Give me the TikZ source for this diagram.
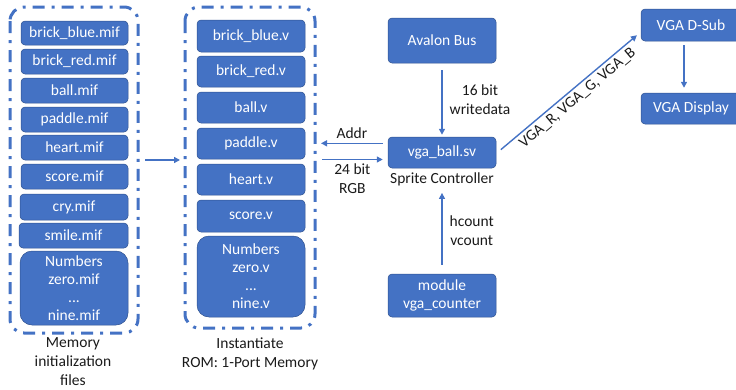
\documentclass[tikz,border=0pt]{standalone}
\usepackage{fontspec}
\setmainfont{Carlito}
\usetikzlibrary{arrows.meta, positioning}
\definecolor{BoxBlue}{HTML}{4472C4}
\definecolor{EdgeBlue}{HTML}{2F528F}
\definecolor{TextGray}{HTML}{1A1A1A}
\tikzset{
  % Box styles
  filebox/.style={rectangle, rounded corners=4pt, draw=EdgeBlue, line width=0.5pt, fill=BoxBlue, text=white, minimum width=107pt, inner sep=0pt, align=center, font=\fontsize{15.5}{18}\selectfont},
  groupbox/.style={draw=BoxBlue, line width=3pt, rounded corners=14pt, dash pattern=on 12pt off 7pt on 3pt off 7pt},
  % Arrow styles
  arrow/.style={-{Triangle[length=6pt,width=6pt]}, line width=1.4pt, BoxBlue},
  % Text styles
  sigtext/.style={text=TextGray, align=center, inner sep=1pt, font=\fontsize{15.5}{19}\selectfont}
}

\begin{document}
\begin{tikzpicture}[x=1pt, y=-1pt]
  \useasboundingbox (0,0) rectangle (736,389);

  % Memory initialization files
  \draw[groupbox] (10,7) rectangle (138,333);
  \node[filebox, minimum height=24pt] (mifblue) at (74.5,33) {brick\_blue.mif};
  \node[filebox, minimum height=25pt] (mifred) at (74.5,61.5) {brick\_red.mif};
  \node[filebox, minimum height=25pt] (mifball) at (74.5,90.5) {ball.mif};
  \node[filebox, minimum height=25pt] (mifpaddle) at (74.5,119.5) {paddle.mif};
  \node[filebox, minimum height=25pt] (mifheart) at (74.5,147.5) {heart.mif};
  \node[filebox, minimum height=25pt] (mifscore) at (74.5,176.5) {score.mif};
  \node[filebox, minimum height=26pt, minimum width=108pt] (mifcry) at (74,207) {cry.mif};
  \node[filebox, minimum height=25pt, minimum width=109pt] (mifsmile) at (73.5,235.5) {smile.mif};
  \node[filebox, minimum height=74pt, minimum width=108pt, rounded corners=12pt] (mifnum) at (74,288) {Numbers\\zero.mif\\...\\nine.mif};
  \node[sigtext] (mifcap) at (73,361.5) {Memory\\initialization\\files};

  % ROM instances
  \draw[groupbox] (185,7) rectangle (315,328);
  \node[filebox, minimum height=32pt, minimum width=108pt] (romblue) at (251,36) {brick\_blue.v};
  \node[filebox, minimum height=31pt, minimum width=108pt] (romred) at (251,71.5) {brick\_red.v};
  \node[filebox, minimum height=31pt, minimum width=108pt] (romball) at (251,107.5) {ball.v};
  \node[filebox, minimum height=31pt, minimum width=108pt] (rompaddle) at (251,143.5) {paddle.v};
  \node[filebox, minimum height=31pt, minimum width=108pt] (romheart) at (251,179.5) {heart.v};
  \node[filebox, minimum height=32pt, minimum width=108pt] (romscore) at (251,216) {score.v};
  \node[filebox, minimum height=81pt, minimum width=108pt, rounded corners=12pt] (romnum) at (251,276.5) {Numbers\\zero.v\\...\\nine.v};
  \node[sigtext] (romcap) at (250,354) {Instantiate\\ROM: 1-Port Memory};

  \coordinate (mifout) at (145,160);
  \coordinate (romin) at (180,160);
  \draw[arrow] (mifout) -- (romin);

  % Sprite controller and its neighbours
  \node[filebox, minimum height=45pt, minimum width=108pt] (avalon) at (442,40.5) {Avalon Bus};
  \node[filebox, minimum height=31pt, minimum width=108pt] (ball) at (442,152.5) {vga\_ball.sv};
  \node[sigtext, below=3pt of ball] (sprite) {Sprite Controller};
  \node[filebox, minimum height=43pt, minimum width=108pt] (counter) at (442,295.5) {module\\vga\_counter};

  \draw[arrow, shorten <=7pt, shorten >=2pt] (avalon.south) -- (ball.north)
    node[sigtext, midway, right=6pt] (wdata) {16 bit\\writedata};
  \draw[arrow, shorten <=9pt, shorten >=6pt] (counter.north) -- (sprite.south)
    node[sigtext, midway, right=6pt] (hvcount) {hcount\\vcount};

  \coordinate (romaddr) at (321,143.3);
  \coordinate (romrgb) at (322,159.5);
  \draw[arrow] (ball.west |- romaddr) ++(-5pt,0) -- (romaddr)
    node[sigtext, midway, above=3pt] (addr) {Addr};
  \draw[arrow] (romrgb) -- ([xshift=-5pt]ball.west |- romrgb)
    node[sigtext, midway, below=3pt] (rgb) {24 bit\\RGB};

  % VGA output
  \node[filebox, minimum height=32pt, minimum width=100pt] (dsub) at (691,25) {VGA D-Sub};
  \node[filebox, minimum height=31pt, minimum width=100pt] (display) at (691,108.5) {VGA Display};
  \draw[arrow, shorten <=4pt, shorten >=5pt] ([xshift=-7pt]dsub.south) -- ([xshift=-7pt]display.north);
  \draw[arrow, shorten <=6pt, shorten >=5pt] ([yshift=-1pt]ball.east) -- ([yshift=-7pt]dsub.west)
    node[sigtext, pos=0.52, sloped, below=2pt] (vgabus) {VGA\_R, VGA\_G, VGA\_B};
\end{tikzpicture}
\end{document}
